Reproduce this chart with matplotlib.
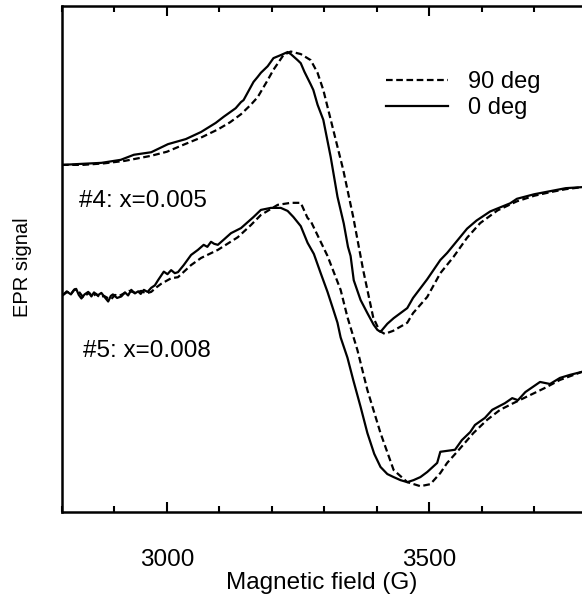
import matplotlib
matplotlib.use("Agg")
import matplotlib.pyplot as plt
from matplotlib.ticker import MultipleLocator

plt.rcParams['font.family'] = ['Liberation Sans', 'DejaVu Sans']

# sample #4, x=0.005 (upper pair)
field_4_0 = [2800, 2837, 2875, 2912, 2937, 2970, 3002, 3036, 3065, 3093, 3108, 3131,
             3141, 3146, 3165, 3173, 3179, 3192, 3203, 3217, 3230, 3236, 3249, 3255,
             3262, 3274, 3279, 3287, 3298, 3312, 3325, 3337, 3345, 3350, 3356, 3369,
             3382, 3394, 3401, 3407, 3420, 3432, 3458, 3469, 3496, 3521, 3534, 3553,
             3572, 3590, 3616, 3654, 3667, 3700, 3730, 3760, 3791]
sig_4_0 = [68.6, 68.8, 69.0, 69.6, 70.6, 71.1, 72.7, 73.7, 75.1, 76.9, 78.1, 79.8,
           81.0, 81.4, 85.0, 86.0, 86.8, 88.1, 89.7, 90.3, 90.9, 90.5, 89.3, 88.7,
           87.0, 84.5, 83.4, 80.5, 77.5, 70.2, 62.3, 57.0, 52.4, 50.6, 45.8, 41.9,
           39.3, 37.0, 36.0, 35.6, 37.2, 38.3, 40.3, 42.3, 46.0, 49.8, 51.2, 53.6,
           56.0, 57.6, 59.4, 61.0, 61.9, 62.8, 63.4, 64.0, 64.2]

field_4_90 = [2800, 2840, 2880, 2920, 2970, 3000, 3032, 3065, 3097, 3120, 3141, 3160,
              3173, 3190, 3203, 3222, 3236, 3255, 3274, 3287, 3298, 3317, 3336, 3355,
              3374, 3393, 3405, 3415, 3431, 3458, 3469, 3496, 3521, 3546, 3572, 3597,
              3630, 3667, 3700, 3730, 3760, 3791]
sig_4_90 = [68.6, 68.6, 68.9, 69.4, 70.4, 71.2, 72.6, 74.0, 75.6, 77.0, 78.6, 80.5,
            82.0, 85.0, 87.4, 90.3, 91.0, 90.5, 89.3, 86.8, 83.4, 75.5, 67.6, 58.3,
            47.8, 38.5, 35.8, 35.2, 35.8, 37.4, 39.3, 42.5, 47.2, 50.4, 54.2, 57.1,
            59.6, 61.4, 62.5, 63.2, 63.8, 64.2]

# sample #5, x=0.008 (lower pair, noisier)
field_5_0 = [2802, 2809, 2817, 2823, 2827, 2832, 2837, 2843, 2850, 2856, 2861, 2868,
             2875, 2881, 2888, 2893, 2897, 2905, 2913, 2920, 2926, 2932, 2939, 2945,
             2950, 2956, 2963, 2970, 2977, 2983, 2994, 3001, 3008, 3015, 3021, 3032,
             3046, 3059, 3070, 3077, 3084, 3090, 3097, 3108, 3122, 3141, 3165, 3179,
             3198, 3217, 3230, 3241, 3255, 3268, 3280, 3293, 3306, 3317, 3325, 3331,
             3344, 3355, 3369, 3382, 3395, 3407, 3420, 3432, 3445, 3458, 3470, 3483,
             3496, 3515, 3521, 3549, 3562, 3578, 3587, 3606, 3620, 3644, 3658, 3669,
             3683, 3711, 3730, 3749, 3768, 3791]
sig_5_0 = [42.9, 43.6, 43.0, 43.9, 44.1, 42.9, 42.2, 43.0, 43.5, 42.6, 43.4, 42.8,
           43.3, 42.5, 41.6, 42.7, 43.0, 42.3, 42.6, 43.4, 42.8, 43.9, 43.2, 43.6,
           43.1, 43.9, 43.5, 44.3, 44.8, 45.8, 47.5, 47.0, 47.8, 47.2, 47.4, 48.8,
           50.8, 51.8, 52.8, 52.4, 53.4, 53.0, 52.8, 53.8, 55.1, 56.1, 58.3, 59.7,
           60.1, 60.1, 59.5, 58.3, 56.5, 53.2, 51.0, 47.2, 43.5, 40.0, 37.4, 34.5,
           30.5, 26.1, 20.8, 15.6, 11.5, 8.9, 7.5, 6.9, 6.3, 5.9, 6.3, 6.9,
           7.9, 9.7, 11.9, 12.3, 14.2, 15.8, 17.2, 18.6, 20.2, 21.5, 22.5, 22.1,
           23.7, 25.7, 25.3, 26.5, 27.1, 27.7]

field_5_90 = [2802, 2810, 2817, 2824, 2831, 2840, 2846, 2852, 2858, 2865, 2872, 2880,
              2887, 2894, 2901, 2909, 2918, 2928, 2940, 2951, 2960, 2970, 2980, 2989,
              3008, 3021, 3046, 3065, 3097, 3135, 3160, 3179, 3211, 3236, 3255, 3268,
              3274, 3306, 3331, 3344, 3363, 3382, 3407, 3432, 3458, 3483, 3502, 3521,
              3534, 3553, 3584, 3610, 3635, 3660, 3692, 3720, 3749, 3791]
sig_5_90 = [42.9, 43.5, 43.1, 44.0, 43.7, 42.5, 42.9, 43.3, 42.6, 43.1, 42.4, 42.7,
            42.3, 42.1, 42.9, 42.7, 43.2, 43.7, 43.3, 43.7, 43.2, 43.5, 44.4, 45.1,
            46.2, 46.4, 48.8, 50.2, 51.8, 54.3, 56.7, 58.7, 60.7, 61.1, 61.1, 58.1,
            57.5, 50.6, 43.9, 38.5, 32.0, 24.1, 15.6, 8.3, 5.9, 5.1, 5.5, 7.7,
            9.7, 11.9, 15.6, 18.2, 20.2, 21.5, 23.1, 24.5, 26.1, 27.7]

fig = plt.figure(figsize=(5.82, 6.01), dpi=100)
ax = fig.add_axes([62/582, 89/601, 520/582, 506/601])

dash = (0, (3, 1.6))
ax.plot(field_4_90, sig_4_90, color='black', lw=1.6, linestyle=dash, label='90 deg')
ax.plot(field_4_0, sig_4_0, color='black', lw=1.6, label='0 deg')
ax.plot(field_5_90, sig_5_90, color='black', lw=1.6, linestyle=dash)
ax.plot(field_5_0, sig_5_0, color='black', lw=1.6)

ax.set_xlim(2800, 3791)
ax.set_ylim(0, 100)

ax.text(2833, 61.4, '#4: x=0.005', fontsize=17.5, ha='left', va='center')
ax.text(2840, 31.9, '#5: x=0.008', fontsize=17.5, ha='left', va='center')

ax.legend(loc='upper left', bbox_to_anchor=(0.624, 0.872), frameon=False, fontsize=17,
          handlelength=2.6, handletextpad=0.85, labelspacing=0.17,
          borderpad=0, borderaxespad=0)

ax.spines['right'].set_visible(False)
for s in ['left', 'top', 'bottom']:
    ax.spines[s].set_linewidth(1.8)

ax.xaxis.set_major_locator(MultipleLocator(500))
ax.xaxis.set_minor_locator(MultipleLocator(100))
ax.tick_params(axis='x', which='both', direction='in', top=True, bottom=True,
               width=1.5, labelsize=17.5, pad=26.5)
ax.tick_params(axis='x', which='major', length=7)
ax.tick_params(axis='x', which='minor', length=4)
ax.set_yticks([])

ax.set_xlabel('Magnetic field (G)', fontsize=17.5)
ax.xaxis.set_label_coords(0.5, -0.119)
ax.set_ylabel('EPR signal', fontsize=14.5)
ax.yaxis.set_label_coords(-0.058, 0.484)

fig.savefig('out.png', dpi=100)
